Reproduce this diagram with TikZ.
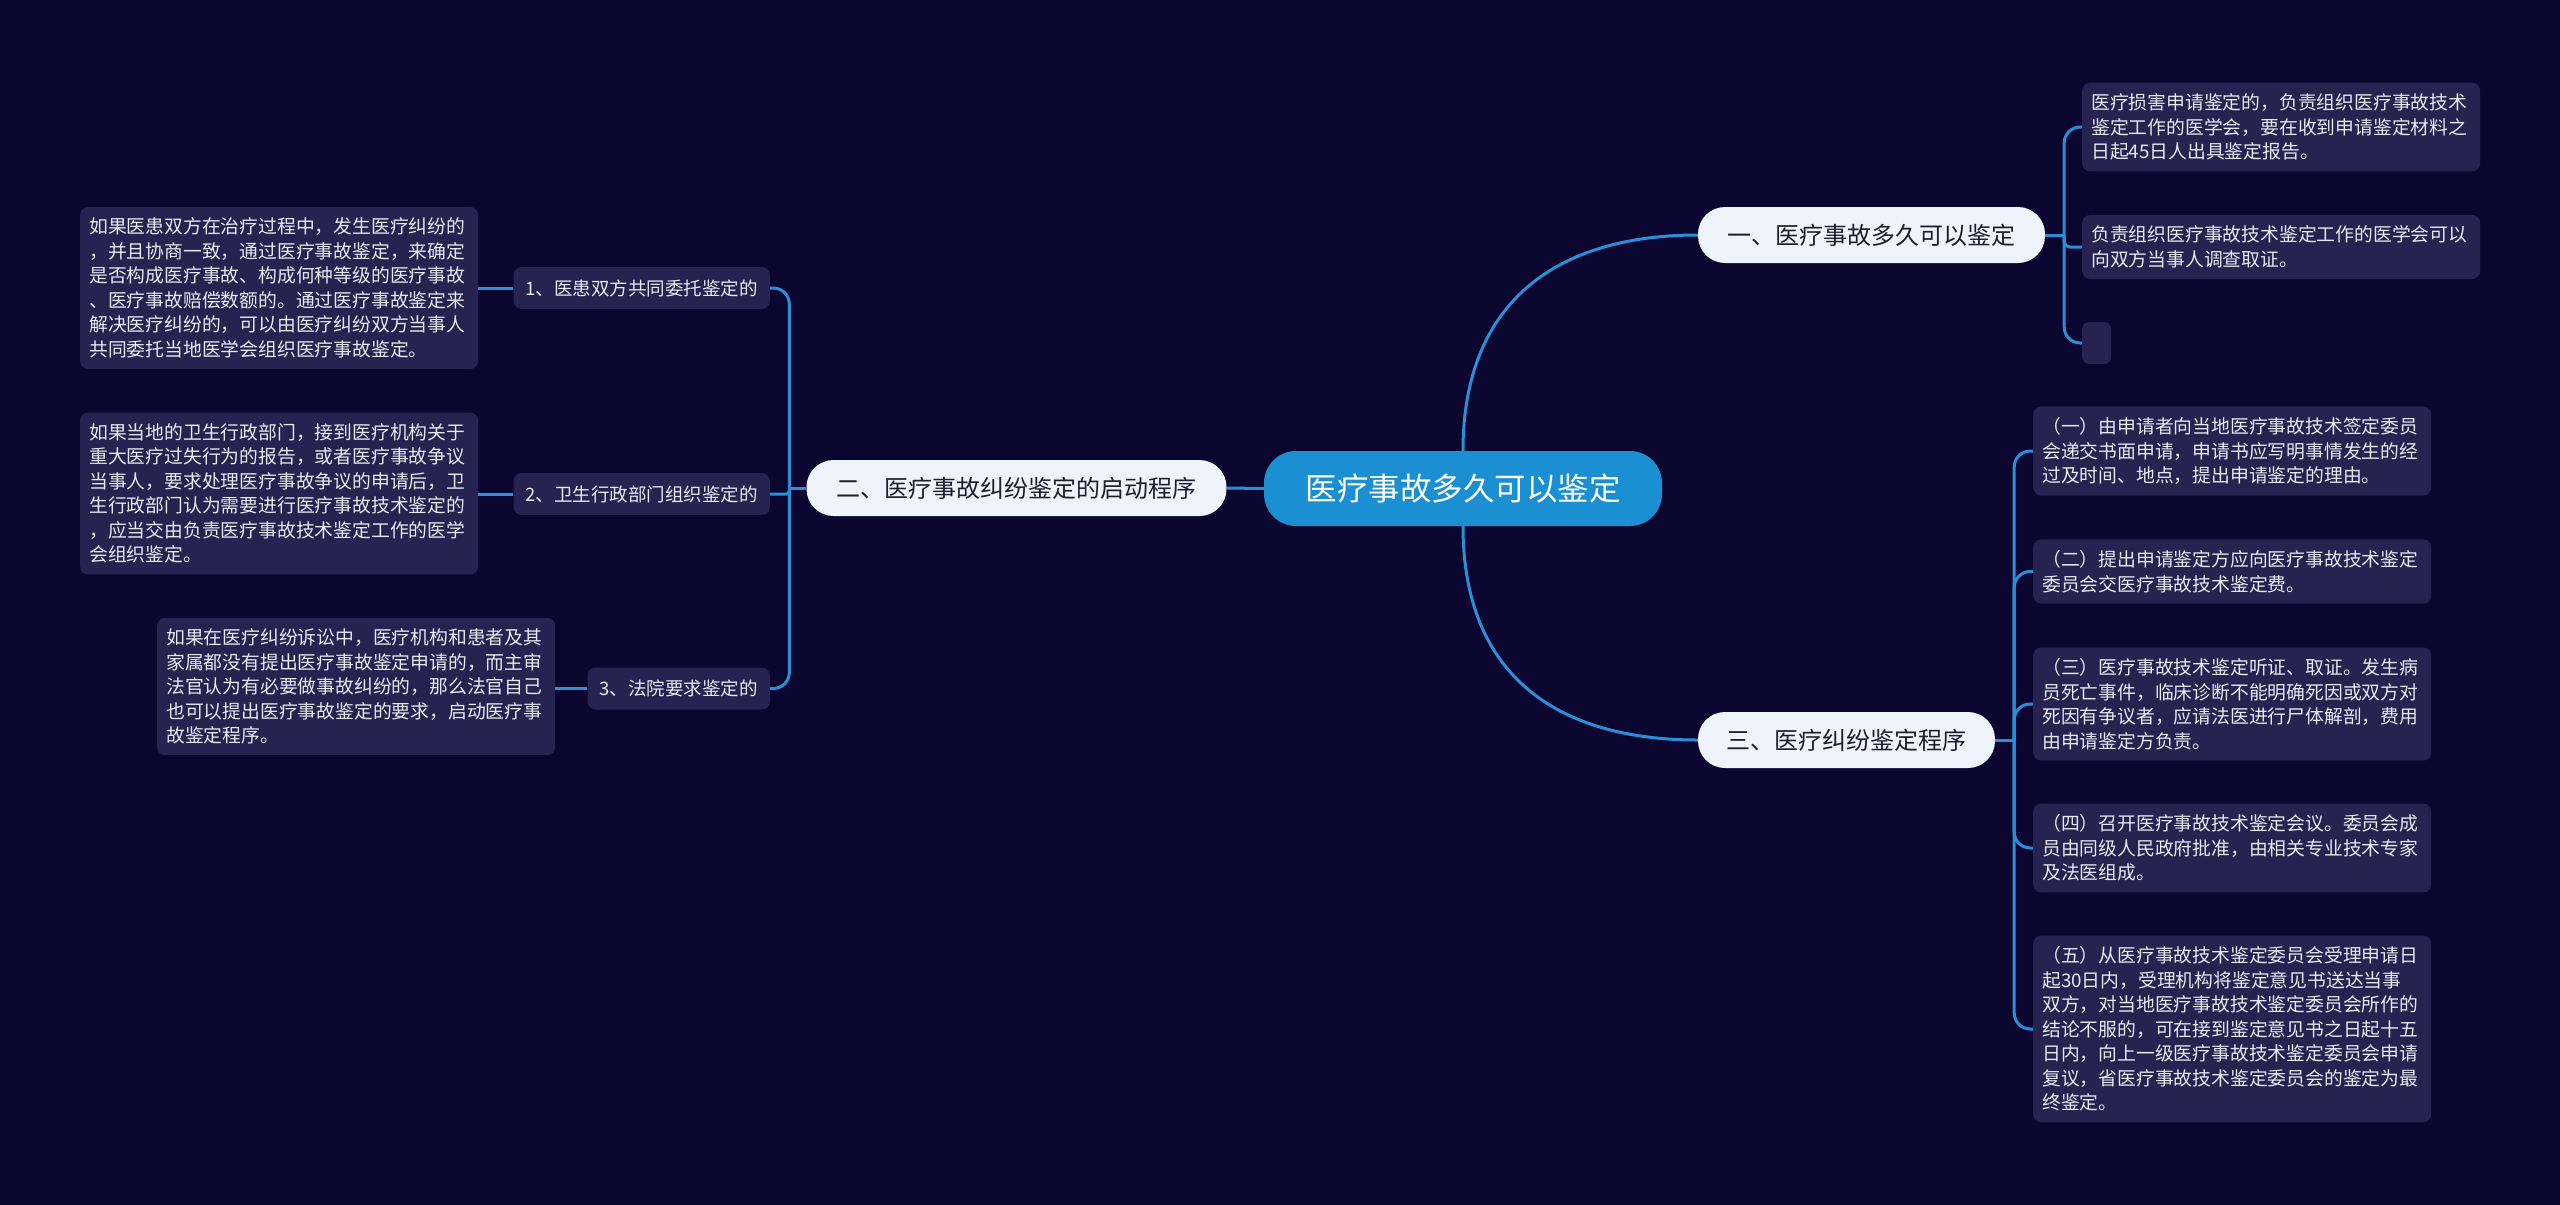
\documentclass[tikz,border=0pt]{standalone}
\usepackage{fontspec}
\setmainfont{Noto Sans CJK SC}
\usetikzlibrary{calc}
\definecolor{bg}{HTML}{0A0630}
\definecolor{leaffill}{HTML}{262350}
\definecolor{leaftext}{HTML}{E8E8F0}
\definecolor{linec}{HTML}{2A8FD6}
\definecolor{centerfill}{HTML}{1A90D2}
\definecolor{mainfill}{HTML}{EEF3FC}
\definecolor{maintext}{HTML}{1E1E2E}
\begin{document}
\begin{tikzpicture}[x=1pt,y=-1pt,
  leaf/.style={fill=leaffill, text=leaftext, rounded corners=8pt, inner xsep=9pt, inner ysep=11pt,
    text width=380pt, align=left, font=\fontsize{18.8}{24.5}\selectfont, anchor=west},
  subn/.style={fill=leaffill, text=leaftext, rounded corners=8pt, inner xsep=12pt, inner ysep=0pt,
    minimum height=42pt, font=\fontsize{18.5}{22}\selectfont, anchor=east},
  mainn/.style={fill=mainfill, text=maintext, rounded corners=27pt, minimum height=56pt, inner xsep=0pt,
    font=\fontsize{24}{28}\selectfont},
  centern/.style={fill=centerfill, text=white, rounded corners=32pt, minimum height=75pt, minimum width=398pt,
    inner xsep=0pt, font=\fontsize{31.5}{36}\selectfont},
  conn/.style={draw=linec, line width=3pt}
]
\useasboundingbox[fill=bg] (0,0) rectangle (2560,1205);

% center and main branches
\node[centern] (c) at (1463,488.5) {医疗事故多久可以鉴定};
\node[mainn, minimum width=420pt] (lm) at (1016.5,488) {二、医疗事故纠纷鉴定的启动程序};
\node[mainn, minimum width=347pt] (n1) at (1871.5,235) {一、医疗事故多久可以鉴定};
\node[mainn, minimum width=297pt] (n3) at (1846.5,740) {三、医疗纠纷鉴定程序};

% left sub nodes
\node[subn] (s1) at (770,288) {1、医患双方共同委托鉴定的};
\node[subn] (s2) at (770,494) {2、卫生行政部门组织鉴定的};
\node[subn] (s3) at (770,688.5) {3、法院要求鉴定的};

% left leaves
\node[leaf] (l1) at (80,288) {如果医患双方在治疗过程中，发生医疗纠纷的\\，并且协商一致，通过医疗事故鉴定，来确定\\是否构成医疗事故、构成何种等级的医疗事故\\、医疗事故赔偿数额的。通过医疗事故鉴定来\\解决医疗纠纷的，可以由医疗纠纷双方当事人\\共同委托当地医学会组织医疗事故鉴定。};
\node[leaf] (l2) at (80,493.5) {如果当地的卫生行政部门，接到医疗机构关于\\重大医疗过失行为的报告，或者医疗事故争议\\当事人，要求处理医疗事故争议的申请后，卫\\生行政部门认为需要进行医疗事故技术鉴定的\\，应当交由负责医疗事故技术鉴定工作的医学\\会组织鉴定。};
\node[leaf] (l3) at (157,686.5) {如果在医疗纠纷诉讼中，医疗机构和患者及其\\家属都没有提出医疗事故鉴定申请的，而主审\\法官认为有必要做事故纠纷的，那么法官自己\\也可以提出医疗事故鉴定的要求，启动医疗事\\故鉴定程序。};

% right leaves of 一
\node[leaf] (r1a) at (2082,127) {医疗损害申请鉴定的，负责组织医疗事故技术\\鉴定工作的医学会，要在收到申请鉴定材料之\\日起45日人出具鉴定报告。};
\node[leaf] (r1b) at (2082,247) {负责组织医疗事故技术鉴定工作的医学会可以\\向双方当事人调查取证。};
\node[fill=leaffill, rounded corners=7pt, inner sep=0pt, minimum width=29pt, minimum height=42pt, anchor=west] (r1c) at (2082,343) {};

% right leaves of 三
\node[leaf] (r3a) at (2033,451) {（一）由申请者向当地医疗事故技术签定委员\\会递交书面申请，申请书应写明事情发生的经\\过及时间、地点，提出申请鉴定的理由。};
\node[leaf] (r3b) at (2033,571.5) {（二）提出申请鉴定方应向医疗事故技术鉴定\\委员会交医疗事故技术鉴定费。};
\node[leaf] (r3c) at (2033,704) {（三）医疗事故技术鉴定听证、取证。发生病\\员死亡事件，临床诊断不能明确死因或双方对\\死因有争议者，应请法医进行尸体解剖，费用\\由申请鉴定方负责。};
\node[leaf] (r3d) at (2033,848) {（四）召开医疗事故技术鉴定会议。委员会成\\员由同级人民政府批准，由相关专业技术专家\\及法医组成。};
\node[leaf] (r3e) at (2033,1029) {（五）从医疗事故技术鉴定委员会受理申请日\\起30日内，受理机构将鉴定意见书送达当事\\双方，对当地医疗事故技术鉴定委员会所作的\\结论不服的，可在接到鉴定意见书之日起十五\\日内，向上一级医疗事故技术鉴定委员会申请\\复议，省医疗事故技术鉴定委员会的鉴定为最\\终鉴定。};

% connectors: center
\draw[conn] (c.west) -- (lm.east);
\draw[conn] (c.north) .. controls +(0,-150) and +(-140,0) .. (n1.west);
\draw[conn] (c.south) .. controls +(0,150) and +(-140,0) .. (n3.west);

% left bracket
\coordinate (jl) at ([xshift=-17pt]lm.west);
\draw[conn] (lm.west) -- (jl);
\draw[conn, rounded corners=16pt] (jl) |- (s1.east);
\draw[conn, rounded corners=3pt] (jl) |- (s2.east);
\draw[conn, rounded corners=16pt] (jl) |- (s3.east);
\draw[conn] (s1.west) -- (l1.east |- s1.west);
\draw[conn] (s2.west) -- (l2.east |- s2.west);
\draw[conn] (s3.west) -- (l3.east |- s3.west);

% right bracket 一
\coordinate (j1) at ([xshift=19pt]n1.east);
\draw[conn] (n1.east) -- (j1);
\draw[conn, rounded corners=16pt] (j1) |- (r1a.west);
\draw[conn, rounded corners=6pt] (j1) |- (r1b.west);
\draw[conn, rounded corners=16pt] (j1) |- (r1c.west);

% right bracket 三
\coordinate (j3) at ([xshift=19pt]n3.east);
\draw[conn] (n3.east) -- (j3);
\draw[conn, rounded corners=16pt] (j3) |- (r3a.west);
\draw[conn, rounded corners=16pt] (j3) |- (r3b.west);
\draw[conn, rounded corners=16pt] (j3) |- (r3c.west);
\draw[conn, rounded corners=16pt] (j3) |- (r3d.west);
\draw[conn, rounded corners=16pt] (j3) |- (r3e.west);
\end{tikzpicture}
\end{document}
